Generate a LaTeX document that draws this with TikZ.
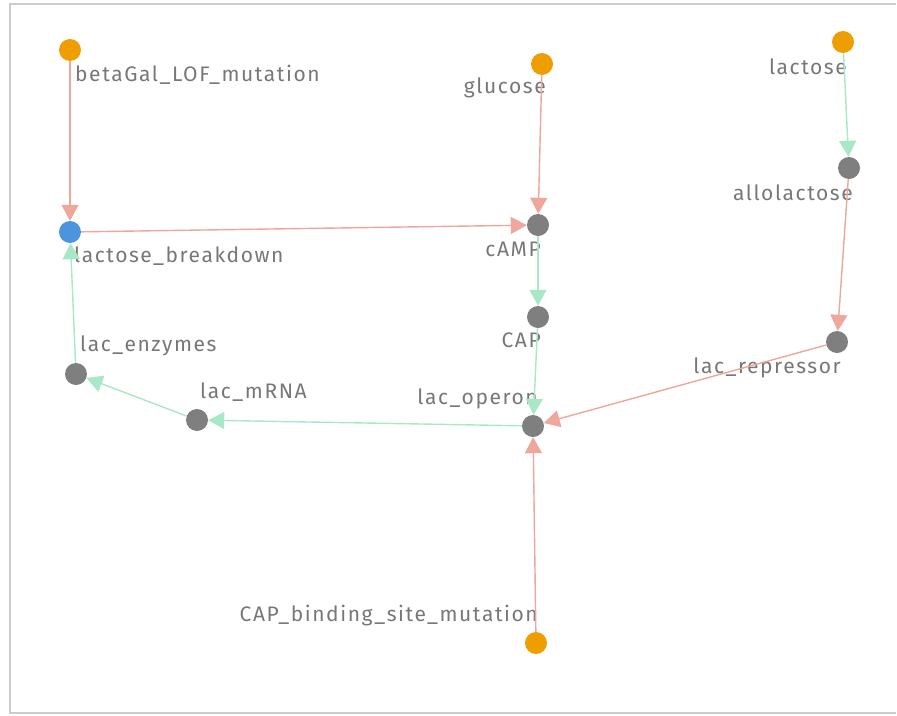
\documentclass[tikz,border=0pt]{standalone}
\usepackage{fontspec}
\setmainfont{Fira Sans}[LetterSpace=7.5]
\usepackage{xcolor}
\usetikzlibrary{arrows.meta}
\definecolor{src}{HTML}{EE9E00}
\definecolor{out}{HTML}{4A95DC}
\definecolor{mid}{HTML}{7F7F7F}
\definecolor{inh}{HTML}{EEA69D}
\definecolor{act}{HTML}{A9E8C6}
\definecolor{lbl}{HTML}{777777}
\tikzset{
  gene/.style={circle, fill=#1, inner sep=0pt, minimum size=22pt},
  txt/.style={text=lbl, inner sep=0pt, font=\fontsize{21}{23}\selectfont},
  inhib/.style={draw=inh, line width=1.4pt, -{Triangle[length=16pt, width=17pt]}},
  activ/.style={draw=act, line width=1.4pt, -{Triangle[length=16pt, width=17pt]}}
}

\begin{document}
\begin{tikzpicture}[x=1pt, y=-1pt]
      \useasboundingbox (0, 0) rectangle (897, 715);
      \draw[black!20, line width=1.5pt] (896, 4) -- (10, 4) -- (10, 713) -- (896, 713);
      \node[gene=src] (B) at (70, 50) {};
      \node[gene=out] (L) at (70, 232) {};
      \node[gene=src] (G) at (542, 64) {};
      \node[gene=mid] (C) at (538, 225) {};
      \node[gene=mid] (P) at (538, 317) {};
      \node[gene=src] (X) at (843, 42) {};
      \node[gene=mid] (A) at (849, 168) {};
      \node[gene=mid] (R) at (837, 342) {};
      \node[gene=mid] (O) at (533, 426) {};
      \node[gene=mid] (M) at (197, 420) {};
      \node[gene=mid] (E) at (76, 374) {};
      \node[gene=src] (S) at (536, 643) {};
      \node[txt, anchor=west] (tB) at (75, 75) {betaGal\_LOF\_mutation};
      \node[txt, anchor=west] (tL) at (74, 256) {lactose\_breakdown};
      \node[txt, anchor=east] (tG) at (546, 88) {glucose};
      \node[txt, anchor=east] (tC) at (541, 249) {cAMP};
      \node[txt, anchor=east] (tP) at (541, 340) {CAP};
      \node[txt, anchor=east] (tX) at (847, 67) {lactose};
      \node[txt, anchor=east] (tA) at (853, 193) {allolactose};
      \node[txt, anchor=east] (tR) at (841, 368) {lac\_repressor};
      \node[txt, anchor=east] (tO) at (538, 399) {lac\_operon};
      \node[txt, anchor=west] (tM) at (200, 392) {lac\_mRNA};
      \node[txt, anchor=west] (tE) at (80, 346) {lac\_enzymes};
      \node[txt, anchor=east] (tS) at (538, 616) {CAP\_binding\_site\_mutation};
      \draw[inhib] (B) to (L);
      \draw[inhib] (G) to (C);
      \draw[inhib] (L) to (C);
      \draw[activ] (X) to (A);
      \draw[inhib] (A) to (R);
      \draw[activ] (C) to (P);
      \draw[activ] (P) to (O);
      \draw[inhib] (R) to (O);
      \draw[inhib] (S) to (O);
      \draw[activ] (O) to (M);
      \draw[activ] (M) to (E);
      \draw[activ] (E) to (L);
    \end{tikzpicture}
\end{document}
